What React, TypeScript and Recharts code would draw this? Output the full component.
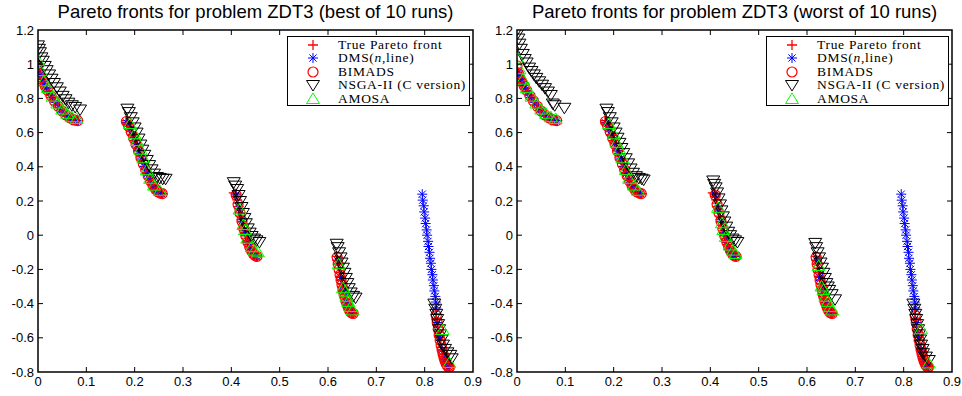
import React from "react";
import { ScatterChart, Scatter, XAxis, YAxis } from "recharts";

type Pt = [number, number];

const xTicks = [0, 0.1, 0.2, 0.3, 0.4, 0.5, 0.6, 0.7, 0.8, 0.9];
const yTicks = [-0.8, -0.6, -0.4, -0.2, 0, 0.2, 0.4, 0.6, 0.8, 1, 1.2];

const titles = [
  "Pareto fronts for problem ZDT3 (best of 10 runs)",
  "Pareto fronts for problem ZDT3 (worst of 10 runs)",
];

// true front, read along the five pieces
const trueFront: Pt[] = [
  [0, 1], [0.002, 0.955], [0.004, 0.936], [0.007, 0.915], [0.01, 0.897], [0.014, 0.876],
  [0.018, 0.856], [0.022, 0.838], [0.026, 0.82], [0.03, 0.803], [0.035, 0.782], [0.04, 0.762],
  [0.045, 0.744], [0.05, 0.726], [0.055, 0.711], [0.06, 0.698], [0.065, 0.687], [0.07, 0.679],
  [0.075, 0.673], [0.08, 0.67], [0.083, 0.67],
  [0.182, 0.67], [0.184, 0.659], [0.186, 0.648], [0.188, 0.636], [0.19, 0.623], [0.1925, 0.606],
  [0.195, 0.589], [0.1975, 0.571], [0.2, 0.553], [0.2025, 0.534], [0.205, 0.515], [0.2075, 0.496],
  [0.21, 0.477], [0.2125, 0.458], [0.215, 0.439], [0.2175, 0.42], [0.22, 0.402], [0.2225, 0.384],
  [0.225, 0.367], [0.2275, 0.35], [0.23, 0.334], [0.2325, 0.32], [0.235, 0.306], [0.2375, 0.294],
  [0.24, 0.282], [0.2425, 0.272], [0.245, 0.263], [0.2475, 0.256], [0.25, 0.25], [0.254, 0.245],
  [0.258, 0.242],
  [0.405, 0.247], [0.409, 0.242], [0.4105, 0.225], [0.412, 0.207], [0.4135, 0.187], [0.415, 0.167],
  [0.4165, 0.148], [0.418, 0.13], [0.4195, 0.111], [0.421, 0.093], [0.4225, 0.076], [0.424, 0.059],
  [0.4255, 0.042], [0.427, 0.026], [0.4285, 0.011], [0.43, -0.004], [0.4315, -0.018], [0.433, -0.031],
  [0.4345, -0.043], [0.436, -0.055], [0.438, -0.069], [0.44, -0.082], [0.442, -0.092], [0.444, -0.102],
  [0.446, -0.11], [0.448, -0.116], [0.451, -0.121], [0.454, -0.124],
  [0.618, -0.124], [0.6195, -0.146], [0.621, -0.169], [0.6225, -0.193], [0.624, -0.217],
  [0.6255, -0.24], [0.627, -0.262], [0.6285, -0.283], [0.63, -0.303], [0.6315, -0.322],
  [0.633, -0.341], [0.6345, -0.357], [0.636, -0.373], [0.638, -0.391], [0.64, -0.409],
  [0.642, -0.422], [0.644, -0.435], [0.646, -0.444], [0.648, -0.452], [0.65, -0.456], [0.653, -0.458],
  [0.823, -0.46], [0.8245, -0.486], [0.826, -0.511], [0.8275, -0.538], [0.829, -0.565],
  [0.8305, -0.59], [0.832, -0.614], [0.8335, -0.636], [0.835, -0.658], [0.8365, -0.677],
  [0.838, -0.695], [0.8395, -0.71], [0.841, -0.725], [0.8425, -0.737], [0.844, -0.748],
  [0.8455, -0.756], [0.847, -0.764], [0.849, -0.769], [0.852, -0.773],
];

const dmsFront: Pt[] = [
  [0.001, 0.965], [0.004, 0.937], [0.008, 0.91], [0.012, 0.886], [0.017, 0.861], [0.023, 0.833],
  [0.029, 0.806], [0.036, 0.778], [0.044, 0.747], [0.052, 0.72], [0.06, 0.698], [0.068, 0.683],
  [0.076, 0.672], [0.083, 0.67],
  [0.184, 0.656], [0.19, 0.623], [0.196, 0.582], [0.202, 0.538], [0.208, 0.492], [0.214, 0.446],
  [0.22, 0.402], [0.226, 0.36], [0.232, 0.322], [0.238, 0.29], [0.244, 0.266], [0.25, 0.25],
  [0.256, 0.243],
  [0.41, 0.235], [0.416, 0.155], [0.422, 0.082], [0.428, 0.016], [0.434, -0.039], [0.44, -0.082],
  [0.446, -0.11], [0.452, -0.123],
  [0.62, -0.15], [0.626, -0.247], [0.632, -0.328], [0.638, -0.392], [0.644, -0.435], [0.65, -0.456],
  [0.795, 0.24], [0.796, 0.205], [0.798, 0.172], [0.799, 0.136], [0.801, 0.1], [0.802, 0.068],
  [0.804, 0.031], [0.805, 0.0], [0.807, -0.036], [0.808, -0.066], [0.81, -0.1], [0.811, -0.135],
  [0.813, -0.164], [0.814, -0.2], [0.816, -0.231], [0.817, -0.262], [0.819, -0.295], [0.82, -0.326],
  [0.822, -0.358], [0.823, -0.391], [0.824, -0.425],
  [0.826, -0.511], [0.831, -0.598], [0.836, -0.67], [0.841, -0.724], [0.846, -0.758], [0.851, -0.773],
];

const bimadsFront: Pt[] = [
  [0.0, 0.99], [0.003, 0.945], [0.006, 0.92], [0.01, 0.897], [0.015, 0.871], [0.02, 0.847],
  [0.027, 0.815], [0.034, 0.785], [0.042, 0.754], [0.05, 0.726], [0.058, 0.703], [0.066, 0.686],
  [0.074, 0.674], [0.082, 0.67],
  [0.183, 0.665], [0.188, 0.635], [0.193, 0.603], [0.198, 0.567], [0.203, 0.53], [0.208, 0.492],
  [0.213, 0.453], [0.218, 0.416], [0.223, 0.38], [0.228, 0.347], [0.233, 0.317], [0.238, 0.291],
  [0.243, 0.27], [0.248, 0.254], [0.253, 0.246], [0.257, 0.243],
  [0.41, 0.235], [0.414, 0.18], [0.418, 0.13], [0.422, 0.082], [0.426, 0.037], [0.43, -0.004],
  [0.434, -0.039], [0.438, -0.068], [0.442, -0.093], [0.446, -0.11], [0.45, -0.121], [0.453, -0.124],
  [0.619, -0.13], [0.621, -0.169], [0.623, -0.2], [0.625, -0.232], [0.627, -0.262], [0.629, -0.29],
  [0.631, -0.316], [0.633, -0.341], [0.635, -0.363], [0.637, -0.383], [0.639, -0.4], [0.641, -0.416],
  [0.643, -0.429], [0.645, -0.44], [0.647, -0.449], [0.649, -0.454], [0.652, -0.458],
  [0.824, -0.47], [0.826, -0.511], [0.828, -0.548], [0.83, -0.583], [0.832, -0.614], [0.834, -0.644],
  [0.836, -0.67], [0.838, -0.695], [0.84, -0.715], [0.842, -0.733], [0.844, -0.748], [0.846, -0.759],
  [0.848, -0.767], [0.85, -0.772], [0.851, -0.773],
];

const nsgaBest: Pt[] = [
  [0.0, 1.11], [0.002, 1.09], [0.004, 1.07], [0.007, 1.04], [0.01, 1.02], [0.014, 0.99],
  [0.018, 0.965], [0.023, 0.94], [0.028, 0.915], [0.033, 0.89], [0.039, 0.865], [0.045, 0.84],
  [0.051, 0.815], [0.057, 0.795], [0.063, 0.775], [0.07, 0.76], [0.077, 0.75], [0.087, 0.735],
  [0.185, 0.74], [0.188, 0.72], [0.192, 0.69], [0.196, 0.66], [0.2, 0.63], [0.204, 0.6],
  [0.208, 0.565], [0.212, 0.53], [0.216, 0.5], [0.22, 0.47], [0.225, 0.44], [0.23, 0.41],
  [0.235, 0.385], [0.24, 0.36], [0.246, 0.34], [0.252, 0.335], [0.258, 0.33], [0.264, 0.33],
  [0.405, 0.31], [0.408, 0.29], [0.412, 0.27], [0.415, 0.235], [0.418, 0.2], [0.421, 0.165],
  [0.424, 0.13], [0.427, 0.1], [0.43, 0.07], [0.434, 0.04], [0.438, 0.015], [0.442, -0.005],
  [0.447, -0.02], [0.452, -0.03], [0.458, -0.04],
  [0.618, -0.05], [0.62, -0.07], [0.623, -0.1], [0.626, -0.13], [0.628, -0.16], [0.631, -0.19],
  [0.634, -0.22], [0.637, -0.25], [0.64, -0.28], [0.643, -0.31], [0.647, -0.335], [0.652, -0.355],
  [0.657, -0.365],
  [0.82, -0.4], [0.822, -0.43], [0.824, -0.46], [0.826, -0.49], [0.828, -0.52], [0.83, -0.55],
  [0.832, -0.58], [0.835, -0.61], [0.838, -0.64], [0.842, -0.665], [0.847, -0.685], [0.853, -0.7],
  [0.856, -0.72],
];

const nsgaWorst: Pt[] = [
  [0.0, 1.2], [0.001, 1.18], [0.003, 1.15], [0.005, 1.12], [0.008, 1.09], [0.012, 1.06],
  [0.016, 1.03], [0.02, 1.01], [0.025, 0.98], [0.03, 0.96], [0.035, 0.94], [0.04, 0.92],
  [0.046, 0.9], [0.052, 0.88], [0.058, 0.86], [0.064, 0.84], [0.07, 0.82], [0.074, 0.77],
  [0.078, 0.76], [0.098, 0.745],
  [0.185, 0.74], [0.188, 0.72], [0.192, 0.69], [0.196, 0.66], [0.2, 0.63], [0.204, 0.6],
  [0.208, 0.57], [0.212, 0.54], [0.216, 0.51], [0.22, 0.48], [0.225, 0.45], [0.23, 0.42],
  [0.235, 0.39], [0.24, 0.365], [0.246, 0.345], [0.252, 0.335], [0.258, 0.33], [0.262, 0.325],
  [0.406, 0.32], [0.408, 0.3], [0.411, 0.28], [0.414, 0.25], [0.417, 0.215], [0.42, 0.18],
  [0.423, 0.145], [0.426, 0.11], [0.429, 0.08], [0.433, 0.05], [0.437, 0.02], [0.441, 0.0],
  [0.446, -0.02], [0.451, -0.03], [0.456, -0.04],
  [0.617, -0.045], [0.619, -0.07], [0.622, -0.1], [0.625, -0.13], [0.628, -0.16], [0.631, -0.19],
  [0.634, -0.22], [0.637, -0.25], [0.64, -0.28], [0.643, -0.3], [0.646, -0.32], [0.651, -0.345],
  [0.658, -0.375],
  [0.82, -0.4], [0.822, -0.43], [0.824, -0.46], [0.826, -0.49], [0.828, -0.52], [0.83, -0.55],
  [0.832, -0.58], [0.834, -0.61], [0.836, -0.64], [0.839, -0.665], [0.84, -0.69], [0.846, -0.71],
  [0.852, -0.73],
];

const amosaBest: Pt[] = [
  [0.0, 1.02], [0.005, 0.96], [0.012, 0.9], [0.02, 0.86], [0.03, 0.81], [0.04, 0.77],
  [0.05, 0.735], [0.06, 0.71], [0.07, 0.69], [0.08, 0.68],
  [0.19, 0.65], [0.2, 0.59], [0.205, 0.55], [0.212, 0.5], [0.218, 0.45], [0.225, 0.38],
  [0.232, 0.33], [0.24, 0.29], [0.252, 0.26],
  [0.417, 0.15], [0.425, 0.06], [0.428, 0.03], [0.433, -0.02], [0.442, -0.07], [0.448, -0.09],
  [0.455, -0.1],
  [0.622, -0.17], [0.631, -0.31], [0.636, -0.33], [0.638, -0.36], [0.642, -0.39], [0.647, -0.42],
  [0.651, -0.44],
  [0.837, -0.554], [0.851, -0.747],
];

const amosaWorst: Pt[] = [
  [0.0, 1.04], [0.005, 0.97], [0.012, 0.91], [0.02, 0.86], [0.03, 0.81], [0.04, 0.77],
  [0.05, 0.735], [0.06, 0.71], [0.07, 0.69], [0.08, 0.68],
  [0.19, 0.65], [0.2, 0.59], [0.206, 0.54], [0.212, 0.5], [0.218, 0.45], [0.225, 0.38],
  [0.232, 0.33], [0.242, 0.29], [0.25, 0.26],
  [0.416, 0.16], [0.424, 0.07], [0.427, 0.03], [0.432, -0.01], [0.44, -0.06], [0.447, -0.09],
  [0.452, -0.11],
  [0.624, -0.18], [0.63, -0.3], [0.634, -0.32], [0.638, -0.36], [0.643, -0.39], [0.648, -0.42],
  [0.652, -0.44],
  [0.836, -0.55], [0.852, -0.75],
];

const toRows = (pts: Pt[]) => pts.map(([x, y]) => ({ x, y }));
const fmt = (v: number) => String(Number(v.toFixed(1)));

const X_MIN = 0, X_MAX = 0.9, Y_MIN = -0.8, Y_MAX = 1.2;
const PLOT = { left: 38, top: 30, width: 435, height: 342 };

const RED = "#ff0000";
const BLUE = "#0000ff";
const GREEN = "#00ff00";

const Plus = ({ cx, cy }: any) => (
  <path d={`M${cx - 5},${cy}h10M${cx},${cy - 5}v10`} stroke={RED} strokeWidth={1.3} fill="none" />
);
const Star = ({ cx, cy }: any) => (
  <path
    d={`M${cx - 5},${cy}h10M${cx},${cy - 5}v10M${cx - 3.6},${cy - 3.6}l7.2,7.2M${cx - 3.6},${cy + 3.6}l7.2,-7.2`}
    stroke={BLUE}
    fill="none"
  />
);
const Ring = ({ cx, cy }: any) => <circle cx={cx} cy={cy} r={5} stroke={RED} strokeWidth={1.2} fill="none" />;
const Down = ({ cx, cy }: any) => (
  <path d={`M${cx - 6.5},${cy - 4.5}h13L${cx},${cy + 6}Z`} stroke="#000" fill="none" />
);
const Up = ({ cx, cy }: any) => (
  <path d={`M${cx - 6.5},${cy + 4.5}h13L${cx},${cy - 6}Z`} stroke={GREEN} fill="none" />
);

const legendRows = [
  { label: <>True Pareto front</>, Mark: Plus },
  { label: <>DMS(<i>n</i>,line)</>, Mark: Star },
  { label: <>BIMADS</>, Mark: Ring },
  { label: <>NSGA-II (C version)</>, Mark: Down },
  { label: <>AMOSA</>, Mark: Up },
];

function LegendBox() {
  return (
    <div
      style={{
        position: "absolute",
        left: 287,
        top: 36,
        width: 183,
        height: 70,
        boxSizing: "border-box",
        border: "1px solid #000",
        background: "#fff",
        fontFamily: '"Liberation Serif", serif',
        fontSize: 13.5,
        letterSpacing: "0.7px",
      }}
    >
      {legendRows.map((r, i) => (
        <div key={i} style={{ position: "absolute", left: 0, top: 1 + i * 13.4, height: 14, width: 181 }}>
          <svg width={20} height={14} style={{ position: "absolute", left: 15, top: 0 }}>
            <r.Mark cx={10} cy={7} />
          </svg>
          <span style={{ position: "absolute", left: 50, top: 0, lineHeight: "14px", whiteSpace: "nowrap" }}>
            {r.label}
          </span>
        </div>
      ))}
    </div>
  );
}

// box round the axes, with inward ticks on all four sides
function Frame() {
  const px = (v: number) => ((v - X_MIN) / (X_MAX - X_MIN)) * PLOT.width;
  const py = (v: number) => ((Y_MAX - v) / (Y_MAX - Y_MIN)) * PLOT.height;
  const W = PLOT.width, H = PLOT.height;
  const d =
    xTicks.slice(1, -1).map((t) => `M${px(t)},0v5M${px(t)},${H}v-5`).join("") +
    yTicks.slice(1, -1).map((t) => `M0,${py(t)}h5M${W},${py(t)}h-5`).join("");
  return (
    <svg
      width={W + 4}
      height={H + 4}
      style={{ position: "absolute", left: PLOT.left - 2, top: PLOT.top - 2, pointerEvents: "none" }}
    >
      <g transform="translate(2,2)">
        <rect x={0} y={0} width={W} height={H} fill="none" stroke="#000" strokeWidth={1.5} />
        <path d={d} stroke="#000" strokeWidth={1} fill="none" />
      </g>
    </svg>
  );
}

const tickStyle = { fill: "#000", fontSize: 13, fontFamily: '"Liberation Sans", Arial, sans-serif' };

function Panel({ left, width, title, nsga, amosa }: any) {
  const right = width - PLOT.left - PLOT.width;
  return (
    <div style={{ position: "absolute", left, top: 0, width, height: 396 }}>
      <ScatterChart width={width} height={396} margin={{ top: PLOT.top, right, bottom: 0, left: 0 }}>
        <XAxis
          type="number"
          dataKey="x"
          domain={[X_MIN, X_MAX]}
          allowDataOverflow
          ticks={xTicks}
          tickFormatter={fmt}
          height={24}
          axisLine={false}
          tickLine={false}
          tickSize={-5}
          tickMargin={10}
          tick={tickStyle}
        />
        <YAxis
          type="number"
          dataKey="y"
          domain={[Y_MIN, Y_MAX]}
          allowDataOverflow
          ticks={yTicks}
          tickFormatter={fmt}
          width={PLOT.left}
          axisLine={false}
          tickLine={false}
          tickSize={-5}
          tickMargin={9}
          tick={tickStyle}
        />
        <Scatter data={toRows(trueFront)} shape={Plus} isAnimationActive={false} />
        <Scatter data={toRows(dmsFront)} shape={Star} isAnimationActive={false} />
        <Scatter data={toRows(bimadsFront)} shape={Ring} isAnimationActive={false} />
        <Scatter data={toRows(nsga)} shape={Down} isAnimationActive={false} />
        <Scatter data={toRows(amosa)} shape={Up} isAnimationActive={false} />
      </ScatterChart>
      <Frame />
      <div
        style={{
          position: "absolute",
          left: PLOT.left,
          top: 3,
          width: PLOT.width,
          textAlign: "center",
          fontFamily: '"Liberation Sans", Arial, sans-serif',
          fontSize: 18.5,
          lineHeight: "18.5px",
          whiteSpace: "nowrap",
        }}
      >
        {title}
      </div>
      <LegendBox />
    </div>
  );
}

export default function App() {
  return (
    <div style={{ position: "absolute", left: 0, top: 0, width: 962, height: 396, background: "#fff" }}>
      <Panel left={0} width={490} title={titles[0]} nsga={nsgaBest} amosa={amosaBest} />
      <Panel left={479} width={483} title={titles[1]} nsga={nsgaWorst} amosa={amosaWorst} />
    </div>
  );
}
